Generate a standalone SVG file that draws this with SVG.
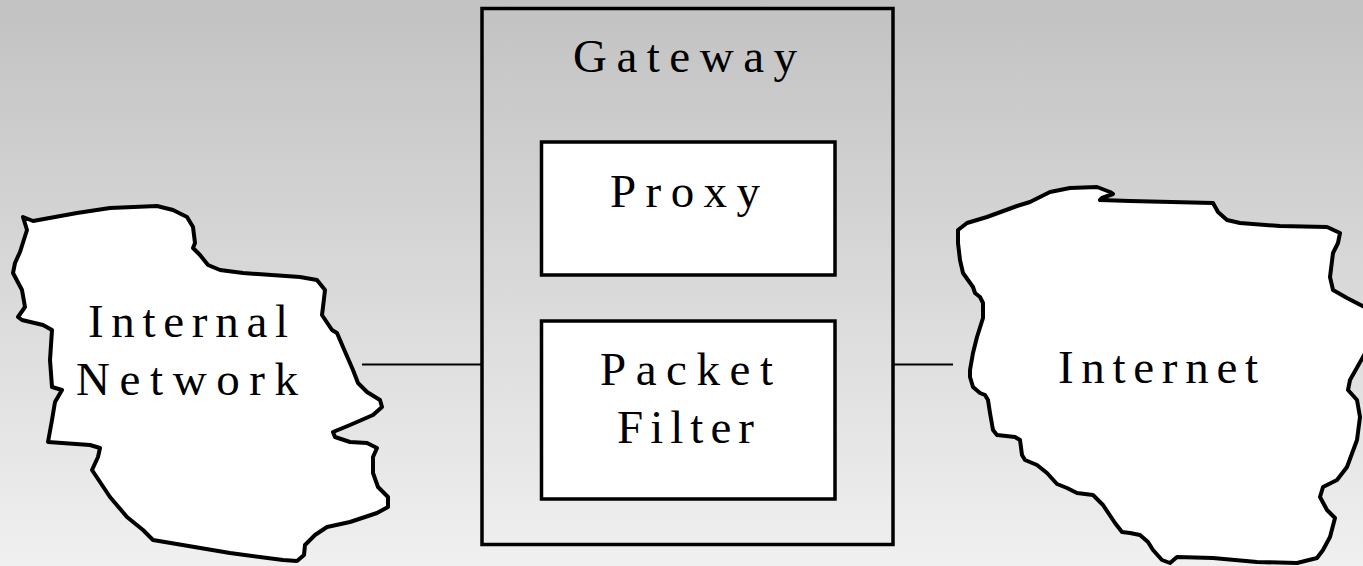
<svg xmlns="http://www.w3.org/2000/svg" width="1363" height="566" viewBox="0 0 1363 566">
<defs>
<linearGradient id="bg" x1="0" y1="0" x2="0" y2="1">
<stop offset="0" stop-color="#c2c2c2"/>
<stop offset="1" stop-color="#f0f0f0"/>
</linearGradient>
</defs>
<style>
.blob{fill:#fff;stroke:#000;stroke-width:4;stroke-linejoin:round}
.box{fill:#fff;stroke:#000;stroke-width:3.5}
.gw{fill:none;stroke:#000;stroke-width:3.5}
.lbl{font-family:"Liberation Serif","Times New Roman",serif;font-size:47px;fill:#000}
.conn{stroke:#000;stroke-width:2;fill:none}
</style>
<rect x="0" y="0" width="1363" height="566" fill="url(#bg)"/>
<g id="connectors">
<line class="conn" x1="362" y1="364.5" x2="482" y2="364.5"/>
<line class="conn" x1="893" y1="364.5" x2="953" y2="364.5"/>
</g>
<g id="internal-network">
<path class="blob" d="M23,217 L33,221 L77,213 L110,208 L157,206 L173,210 L187,217 L193,227 L195,243 L193,248 L200,255 L208,265 L220,270 L243,273 L300,277 L317,280 L325,290 L323,307 L322,315 L332,330 L337,333 L343,347 L353,370 L358,383 L367,392 L380,400 L382,407 L373,415 L350,425 L333,432 L335,437 L350,442 L367,443 L377,448 L373,457 L373,473 L378,487 L388,497 L388,507 L377,513 L350,522 L327,527 L315,535 L305,545 L304,555 L297,561 L283,560 L230,553 L153,540 L143,530 L127,517 L110,497 L92,470 L98,457 L100,448 L90,445 L48,442 L52,420 L55,402 L62,390 L52,387 L50,360 L52,330 L43,325 L22,320 L18,317 L25,307 L22,290 L13,273 L15,263 L20,252 L27,230 Z"/>
<text class="lbl" x="88" y="337" textLength="200" lengthAdjust="spacing">Internal</text>
<text class="lbl" x="76" y="395" textLength="222" lengthAdjust="spacing">Network</text>
</g>
<g id="gateway">
<rect class="gw" x="482" y="8.5" width="411" height="536"/>
<text class="lbl" x="573" y="72" textLength="224" lengthAdjust="spacing">Gateway</text>
</g>
<g id="proxy">
<rect class="box" x="541.5" y="142" width="293.5" height="133"/>
<text class="lbl" x="610" y="207" textLength="150" lengthAdjust="spacing">Proxy</text>
</g>
<g id="packet-filter">
<rect class="box" x="541.5" y="321" width="293.5" height="178"/>
<text class="lbl" x="600" y="385" textLength="173" lengthAdjust="spacing">Packet</text>
<text class="lbl" x="617" y="443" textLength="137" lengthAdjust="spacing">Filter</text>
</g>
<g id="internet">
<path class="blob" d="M958,230 L967,223 L987,217 L1017,206 L1030,202 L1050,192 L1070,188 L1097,187 L1110,192 L1113,194 L1102,198 L1100,200 L1130,201 L1213,203 L1218,212 L1227,220 L1240,223 L1280,226 L1327,227 L1340,233 L1338,243 L1333,253 L1330,277 L1333,290 L1347,298 L1370,310 L1370,345 L1363,357 L1350,380 L1348,390 L1357,400 L1360,417 L1357,440 L1347,467 L1337,480 L1323,487 L1320,497 L1327,510 L1335,518 L1330,537 L1323,550 L1317,558 L1297,563 L1257,562 L1213,558 L1177,557 L1170,563 L1162,560 L1153,550 L1148,542 L1140,535 L1130,533 L1122,532 L1115,523 L1103,505 L1093,495 L1077,493 L1067,488 L1057,484 L1047,473 L1037,465 L1025,460 L1022,455 L1020,440 L1015,437 L997,435 L993,430 L990,413 L988,400 L985,395 L980,393 L973,387 L970,377 L970,370 L973,353 L977,337 L983,318 L983,303 L980,297 L975,293 L973,287 L963,273 L960,260 L958,243 Z"/>
<text class="lbl" x="1058" y="383" textLength="200" lengthAdjust="spacing">Internet</text>
</g>
</svg>
